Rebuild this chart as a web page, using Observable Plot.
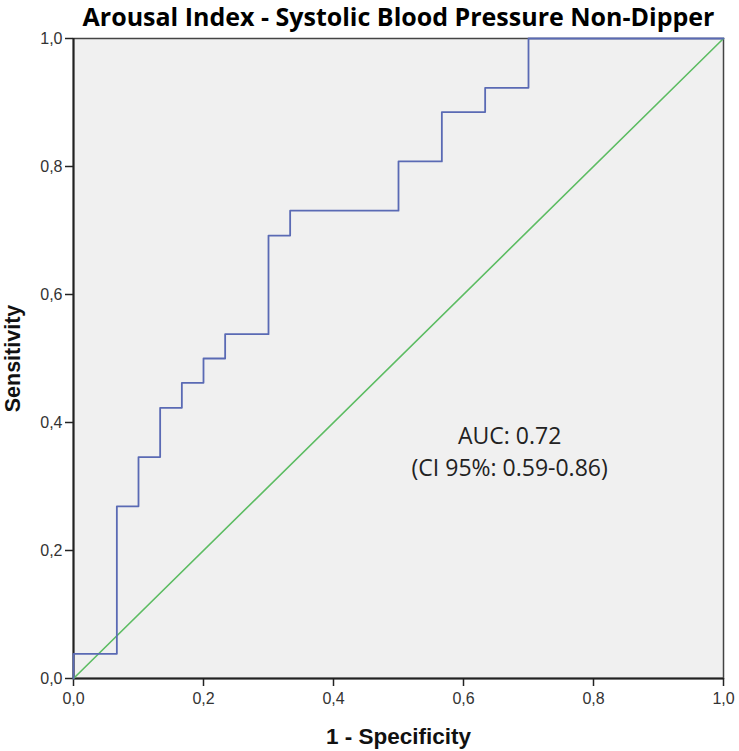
<!DOCTYPE html>
<html>
<head>
<meta charset="utf-8">
<script src="https://cdn.jsdelivr.net/npm/d3@7"></script>
<script src="https://cdn.jsdelivr.net/npm/@observablehq/plot@0.6"></script>
<style>
  html, body { margin: 0; padding: 0; background: #fff; }
</style>
</head>
<body>
<div id="chart"></div>
<script>
const titleText = "Arousal Index - Systolic Blood Pressure Non-Dipper";
const xLabel = "1 - Specificity";
const yLabel = "Sensitivity";
const tickValues = [0, 0.2, 0.4, 0.6, 0.8, 1.0];
// ROC points (1 - specificity, sensitivity)
const fpr = [0, 0, 0.0667, 0.1, 0.1333, 0.1667, 0.2, 0.2333, 0.3, 0.3333, 0.5, 0.5667, 0.6333, 0.7, 1.0];
const tpr = [0, 0.0385, 0.269, 0.346, 0.423, 0.462, 0.5, 0.538, 0.692, 0.731, 0.808, 0.885, 0.923, 1.0, 1.0];
const refX = [0, 1];
const refY = [0, 1];
const annotation = ["AUC: 0.72", "(CI 95%: 0.59-0.86)"];

const roc = fpr.map((x, i) => ({x, y: tpr[i]}));
const ref = refX.map((x, i) => ({x, y: refY[i]}));
const fmt = d => d.toFixed(1).replace(".", ",");

const chart = Plot.plot({
  width: 739,
  height: 751,
  marginLeft: 73,
  marginRight: 16,
  marginTop: 38,
  marginBottom: 73,
  style: {fontFamily: "'Liberation Sans', Arial, sans-serif", fontSize: "16px", color: "#333", background: "#fff"},
  x: {domain: [0, 1], ticks: tickValues, tickFormat: fmt},
  y: {domain: [0, 1], ticks: tickValues, tickFormat: fmt},
  marks: [
    Plot.frame({fill: "#f0f0f0", stroke: "#444", strokeWidth: 1.5}),
    Plot.axisX({ticks: tickValues, tickFormat: fmt, tickSize: 8, tickPadding: 6, label: null, stroke: "#222", strokeWidth: 1.5, fontSize: 16, fill: "#333"}),
    Plot.axisY({ticks: tickValues, tickFormat: fmt, tickSize: 8, tickPadding: 3, label: null, stroke: "#222", strokeWidth: 1.5, fontSize: 16, fill: "#333"}),
    Plot.ruleX([0], {stroke: "#222", strokeWidth: 2}),
    Plot.ruleY([0], {stroke: "#222", strokeWidth: 2}),
    Plot.line(ref, {x: "x", y: "y", stroke: "#5cbc62", strokeWidth: 1.6}),
    Plot.line(roc, {x: "x", y: "y", curve: "step-after", stroke: "#5a6ab4", strokeWidth: 1.8}),
    Plot.text([annotation[0]], {x: 0.671, y: 0.367, text: d => d, lineAnchor: "bottom", fontSize: 23, fontFamily: "'Open Sans', Lato, sans-serif", fill: "#222"}),
    Plot.text([annotation[1]], {x: 0.671, y: 0.316, text: d => d, lineAnchor: "bottom", fontSize: 23, fontFamily: "'Open Sans', Lato, sans-serif", fill: "#222"}),
    Plot.text([titleText], {frameAnchor: "top", dy: -13, lineAnchor: "bottom", text: d => d, fontSize: 25, fontWeight: "bold", fontFamily: "'Open Sans', Lato, sans-serif", fill: "#000"}),
    Plot.text([xLabel], {frameAnchor: "bottom", dy: 65, text: d => d, lineAnchor: "bottom", fontSize: 22.5, fontWeight: "bold", fontFamily: "'Liberation Sans', Arial, sans-serif", fill: "#111"}),
    Plot.text([yLabel], {frameAnchor: "left", dx: -60, rotate: -90, textAnchor: "middle", text: d => d, fontSize: 21.5, fontWeight: "bold", fontFamily: "'Liberation Sans', Arial, sans-serif", fill: "#111"})
  ]
});
document.getElementById("chart").appendChild(chart);
</script>
</body>
</html>
